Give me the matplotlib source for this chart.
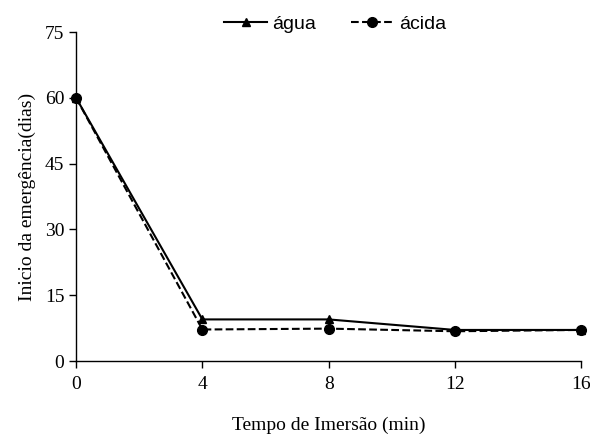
import matplotlib
matplotlib.use("Agg")
import matplotlib.pyplot as plt

tempo = [0, 4, 8, 12, 16]
agua = [60, 9.5, 9.5, 7.1, 7.1]
acida = [60, 7.2, 7.4, 6.8, 7.1]
yticks = [0, 15, 30, 45, 60, 75]

fig = plt.figure(figsize=(5.9, 4.34), dpi=100)
ax = fig.add_axes([0.129, 0.168, 0.856, 0.758])
serif = "Liberation Serif"
sans = "Liberation Sans"

ax.plot(tempo, agua, color="black", linestyle="-", linewidth=1.5, marker="^", markersize=6, label="água", clip_on=False)
ax.plot(tempo, acida, color="black", linestyle="--", linewidth=1.5, marker="o", markersize=7, label="ácida", clip_on=False)

ax.set_xlim(0, 16)
ax.set_ylim(0, 75)
ax.set_xticks(tempo)
ax.set_yticks(yticks)
for s in ["top", "right"]:
    ax.spines[s].set_visible(False)
for s in ["left", "bottom"]:
    ax.spines[s].set_linewidth(1.0)
ax.tick_params(direction="out", length=5, width=1, labelsize=14)
for lab in ax.get_xticklabels() + ax.get_yticklabels():
    lab.set_fontfamily(serif)
ax.tick_params(axis="x", pad=6)

ax.set_xlabel("Tempo de Imersão (min)", fontsize=14, fontfamily=serif, labelpad=17)
ax.set_ylabel("Inicio da emergência(dias)", fontsize=14, fontfamily=serif, labelpad=6)

leg = fig.legend(loc="upper center", bbox_to_anchor=(0.568, 1.005), ncol=2, frameon=False,
                 prop={"family": sans, "size": 14}, handlelength=2.2, columnspacing=1.8, handletextpad=0.25)

fig.savefig("out.png", dpi=100)
